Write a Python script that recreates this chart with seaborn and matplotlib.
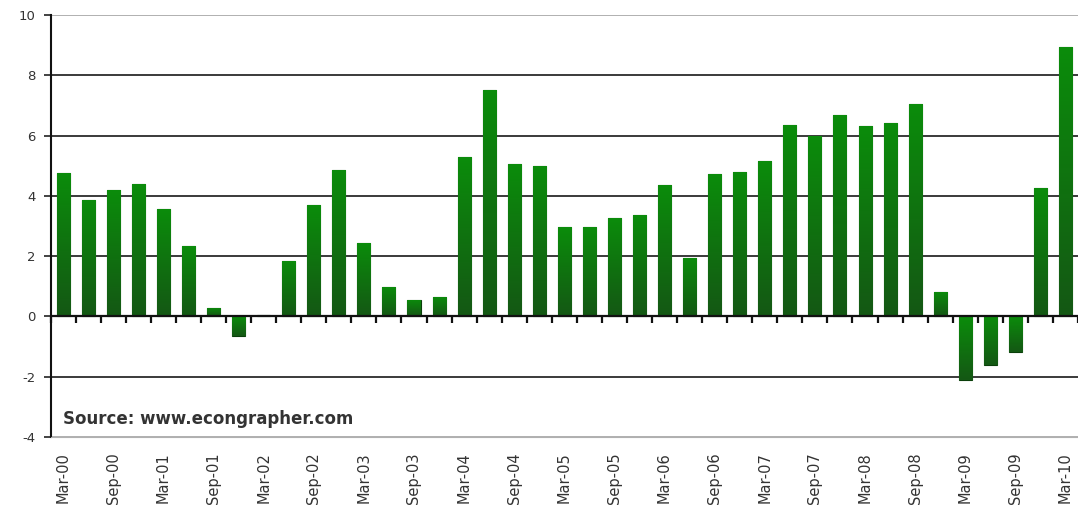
import numpy as np
import pandas as pd
import matplotlib
matplotlib.use("Agg")
import matplotlib.pyplot as plt
from matplotlib.colors import LinearSegmentedColormap
import seaborn as sns

# quarterly values (annual % change)
quarters = ["Mar-00", "Jun-00", "Sep-00", "Dec-00", "Mar-01", "Jun-01", "Sep-01", "Dec-01",
            "Mar-02", "Jun-02", "Sep-02", "Dec-02", "Mar-03", "Jun-03", "Sep-03", "Dec-03",
            "Mar-04", "Jun-04", "Sep-04", "Dec-04", "Mar-05", "Jun-05", "Sep-05", "Dec-05",
            "Mar-06", "Jun-06", "Sep-06", "Dec-06", "Mar-07", "Jun-07", "Sep-07", "Dec-07",
            "Mar-08", "Jun-08", "Sep-08", "Dec-08", "Mar-09", "Jun-09", "Sep-09", "Dec-09",
            "Mar-10"]
growth = [4.77, 3.87, 4.2, 4.38, 3.55, 2.33, 0.27, -0.65,
          0.05, 1.84, 3.68, 4.87, 2.45, 0.97, 0.55, 0.64,
          5.28, 7.5, 5.05, 4.98, 2.95, 2.95, 3.27, 3.38,
          4.37, 1.95, 4.74, 4.8, 5.14, 6.36, 6.0, 6.69,
          6.32, 6.43, 7.05, 0.8, -2.12, -1.62, -1.19, 4.27,
          8.95]
y_ticks = [-4, -2, 0, 2, 4, 6, 8, 10]
source_text = "Source: www.econgrapher.com"

df = pd.DataFrame({"quarter": quarters, "growth": growth})

sns.set_style("white")
plt.rcParams["font.family"] = ["DejaVu Sans"]
plt.rcParams["axes.unicode_minus"] = False

fig = plt.figure(figsize=(10.78, 5.13), dpi=100)
ax = fig.add_axes([0.047, 0.148, 0.953, 0.823])

sns.barplot(data=df, x="quarter", y="growth", color="#0b7a0b", width=0.52,
            saturation=1, edgecolor="#0a3f0a", linewidth=0.8, ax=ax)

# green gradient inside each bar (bright on top, darker at the base)
cmap = LinearSegmentedColormap.from_list("grn", ["#145814", "#0b8c0b"])
grad = np.linspace(0, 1, 64).reshape(-1, 1)
for bar in ax.patches:
    x0, w = bar.get_x(), bar.get_width()
    y0, h = bar.get_y(), bar.get_height()
    lo, hi = min(y0, y0 + h), max(y0, y0 + h)
    img = ax.imshow(grad, cmap=cmap, aspect="auto", origin="lower",
                    extent=(x0, x0 + w, lo, hi), zorder=bar.get_zorder() + 0.1)
    img.set_clip_path(bar)

ax.set_xlim(-0.5, len(quarters) - 0.5)
ax.set_ylim(-4, 10)
ax.set_yticks(y_ticks)
ax.set_xlabel("")
ax.set_ylabel("")

# horizontal gridlines
ax.yaxis.grid(True, color="#3a3a3a", linewidth=1.4)
ax.set_axisbelow(True)
for val, gl in zip(y_ticks, ax.get_ygridlines()):
    if val in (-4, 10):
        gl.set_color("#b0b0b0")
ax.axhline(0, color="#111111", linewidth=1.6, zorder=3)

# x labels: every second quarter, rotated
ax.set_xticks(range(0, len(quarters), 2))
ax.set_xticklabels(quarters[::2], rotation=90, fontsize=10.5, color="#333333")
ax.tick_params(axis="x", length=0, pad=11)
ax.tick_params(axis="y", left=True, length=5, width=1.2, color="#222222",
               labelsize=9.5, labelcolor="#333333", pad=6)

# small tick marks hanging below the zero line
sec = ax.secondary_xaxis(4 / 14)
sec.set_xticks(np.arange(-0.5, len(quarters), 1.0))
sec.set_xticklabels([])
sec.tick_params(direction="out", length=5, width=1.6, color="#111111")
sec.spines["bottom"].set_visible(False)

for side in ("top", "right"):
    ax.spines[side].set_visible(False)
ax.spines["bottom"].set_color("#b0b0b0")
ax.spines["left"].set_color("#111111")
ax.spines["left"].set_linewidth(1.5)

ax.text(0.012, 0.022, source_text, transform=ax.transAxes, fontsize=12,
        fontweight="bold", color="#333333", ha="left", va="bottom")

fig.savefig("out.png", dpi=100)
